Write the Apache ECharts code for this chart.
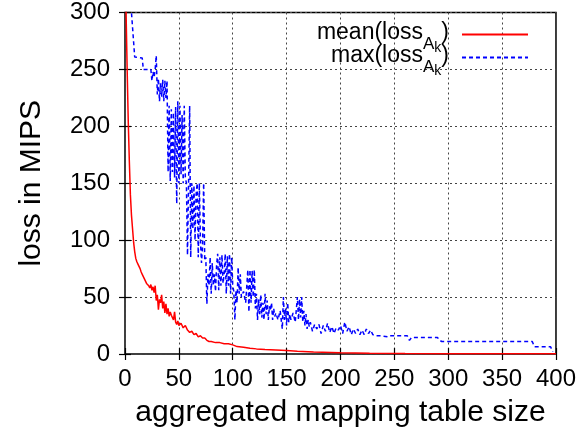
<!DOCTYPE html>
<html>
<head>
<meta charset="utf-8">
<script src="https://cdn.jsdelivr.net/npm/echarts@6/dist/echarts.min.js"></script>
<style>
  html, body { margin: 0; padding: 0; background: #fff; }
  #main { width: 579px; height: 435px; }
</style>
</head>
<body>
<div id="main"></div>
<script>
// data: [table size, loss]
var meanLoss = [
  [0, 330], [1, 300], [2, 250], [3, 205], [4, 170], [5, 140], [6, 122], [7, 110], [8, 98],
  [9, 90], [10, 84], [11, 81], [12, 79], [13, 77], [14, 75], [15, 72], [16, 70], [17, 68],
  [18, 66], [19, 64], [20, 62], [21, 63], [22, 60], [23, 58], [24, 61], [25, 56], [26, 59],
  [27, 54], [28, 60], [29, 47], [30, 52], [31, 39], [32, 48], [33, 45], [34, 52], [35, 40],
  [36, 46], [37, 36], [38, 44], [39, 35], [40, 40], [41, 33], [42, 37], [43, 34], [44, 35],
  [45, 30], [46, 37], [47, 28], [48, 26], [49, 29], [50, 25], [52, 27], [54, 23], [56, 25],
  [58, 21], [60, 19], [62, 20], [64, 17], [66, 18], [68, 15], [70, 16], [72, 14], [74, 14],
  [76, 12], [78, 11], [80, 11], [84, 10], [88, 10], [92, 9], [96, 9], [100, 8], [104, 6.5],
  [110, 6], [116, 5], [122, 4.5], [130, 4], [140, 3.5], [150, 3], [160, 2.5], [175, 1.8],
  [200, 1.2], [227, 0.7], [260, 0.4], [300, 0.3], [400, 0.2]
];
var maxLoss = [
  [5, 330], [6, 300], [9, 261], [16, 260], [17, 250], [24, 250], [25, 240], [26, 248],
  [27, 243], [28, 250], [29, 262], [30, 228], [31, 242], [32, 222], [33, 238], [34, 226],
  [35, 241], [36, 222], [37, 240], [38, 225], [39, 240], [40, 160], [41, 218], [42, 152],
  [43, 215], [44, 160], [45, 212], [46, 155], [47, 217], [48, 132], [49, 222], [50, 150],
  [51, 218], [52, 158], [53, 210], [54, 150], [55, 218], [56, 155], [57, 150], [58, 87],
  [59, 150], [60, 218], [61, 85], [62, 150], [63, 110], [64, 148], [65, 100], [66, 140],
  [67, 150], [68, 85], [69, 150], [70, 100], [71, 80], [72, 95], [73, 150], [74, 82],
  [75, 85], [76, 44], [77, 70], [78, 60], [79, 85], [80, 53], [81, 80], [82, 60], [83, 70],
  [84, 55], [85, 78], [86, 88], [87, 56], [88, 85], [89, 60], [90, 87], [91, 62], [92, 70],
  [93, 88], [94, 53], [95, 86], [96, 60], [97, 88], [98, 53], [99, 85], [100, 60], [101, 55],
  [102, 30], [103, 56], [104, 45], [105, 76], [106, 53], [107, 70], [108, 50], [110, 55],
  [112, 45], [114, 74], [115, 37], [116, 74], [117, 45], [118, 73], [119, 50], [120, 74],
  [121, 40], [122, 53], [123, 30], [124, 48], [125, 35], [126, 52], [127, 32], [128, 45],
  [129, 30], [130, 53], [131, 35], [132, 47], [133, 30], [134, 42], [135, 38], [136, 45],
  [137, 30], [138, 40], [139, 33], [140, 36], [142, 30], [144, 38], [146, 22], [147, 50],
  [148, 30], [149, 40], [150, 25], [151, 45], [152, 28], [153, 35], [154, 30], [156, 36],
  [158, 28], [160, 50], [161, 30], [162, 48], [163, 32], [164, 50], [165, 28], [166, 38],
  [167, 25], [168, 35], [169, 22], [170, 30], [171, 24], [172, 28], [174, 20], [176, 26],
  [178, 22], [180, 26], [182, 18], [184, 25], [186, 20], [188, 27], [190, 19], [192, 24],
  [194, 18], [196, 23], [198, 21], [200, 25], [202, 18], [204, 28], [206, 20], [208, 24],
  [210, 17], [212, 22], [214, 18], [216, 22], [218, 17], [220, 21], [222, 17], [224, 22],
  [226, 18], [228, 21], [230, 17], [232, 16], [238, 16], [244, 15], [246, 16], [262, 16],
  [264, 12], [266, 14.5], [290, 14.5], [292, 12], [294, 11], [378, 11], [380, 6.4],
  [395, 6.4], [397, 2]
];
var seriesNames = ['mean', 'max'];
var xTicks = { min: 0, max: 400, step: 50 };
var yTicks = { min: 0, max: 300, step: 50 };

var font = '"Liberation Sans", Arial, sans-serif';
var chart = echarts.init(document.getElementById('main'));

var tickStyle = { show: true, inside: true, length: 6, lineStyle: { color: '#000', width: 1.2 } };
var gridLine = { show: true, lineStyle: { color: '#444', type: [2, 3], width: 1 } };

var option = {
  animation: false,
  backgroundColor: '#fff',
  grid: { left: 125, right: 22, top: 12.5, bottom: 81, show: true, borderColor: '#000', borderWidth: 1.5 },
  legend: {
    orient: 'vertical',
    right: 50,
    top: 21,
    padding: 0,
    align: 'right',
    itemWidth: 66,
    itemHeight: 12,
    itemGap: -28,
    data: seriesNames,
    itemStyle: { opacity: 0 },
    formatter: function (n) {
      return '{t|' + n + '(loss}{a|A}{k|k}{t|)}{g| }';
    },
    textStyle: {
      fontFamily: font,
      color: '#000',
      rich: {
        t: { fontSize: 23, fontFamily: font, color: '#000', lineHeight: 23, verticalAlign: 'top' },
        a: { fontSize: 17, fontFamily: font, color: '#000', lineHeight: 17, padding: [15, 0, 0, 0], verticalAlign: 'top' },
        k: { fontSize: 14, fontFamily: font, color: '#000', lineHeight: 14, padding: [20, 0, 17, 0], verticalAlign: 'top' },
        g: { fontSize: 8, width: 8, lineHeight: 27, verticalAlign: 'middle' }
      }
    }
  },
  xAxis: [{
    type: 'value', min: xTicks.min, max: xTicks.max, interval: xTicks.step,
    name: 'aggregated mapping table size', nameLocation: 'middle', nameGap: 44,
    nameTextStyle: { fontFamily: font, fontSize: 30, color: '#000' },
    axisLine: { show: false },
    axisTick: tickStyle,
    axisLabel: { fontFamily: font, fontSize: 24, color: '#000', margin: 13 },
    splitLine: gridLine
  }, {
    type: 'value', position: 'top', min: xTicks.min, max: xTicks.max, interval: xTicks.step,
    axisLine: { show: false }, axisTick: tickStyle, axisLabel: { show: false }, splitLine: { show: false }
  }],
  yAxis: [{
    type: 'value', min: yTicks.min, max: yTicks.max, interval: yTicks.step,
    name: 'loss in MIPS', nameLocation: 'middle', nameGap: 78,
    nameTextStyle: { fontFamily: font, fontSize: 30, color: '#000' },
    axisLine: { show: false },
    axisTick: tickStyle,
    axisLabel: { fontFamily: font, fontSize: 24, color: '#000', margin: 15 },
    splitLine: gridLine
  }, {
    type: 'value', position: 'right', min: yTicks.min, max: yTicks.max, interval: yTicks.step,
    axisLine: { show: false }, axisTick: tickStyle, axisLabel: { show: false }, splitLine: { show: false }
  }],
  series: [{
    name: seriesNames[0], type: 'line', data: meanLoss, symbol: 'none',
    xAxisIndex: 0, yAxisIndex: 0, clip: true,
    lineStyle: { color: '#ff0000', width: 1.5 }, itemStyle: { color: '#ff0000' }
  }, {
    name: seriesNames[1], type: 'line', data: maxLoss, symbol: 'none',
    xAxisIndex: 0, yAxisIndex: 0, clip: true,
    lineStyle: { color: '#0000ff', width: 1.5, type: [4, 3] }, itemStyle: { color: '#0000ff' }
  }]
};
chart.setOption(option);
</script>
</body>
</html>
